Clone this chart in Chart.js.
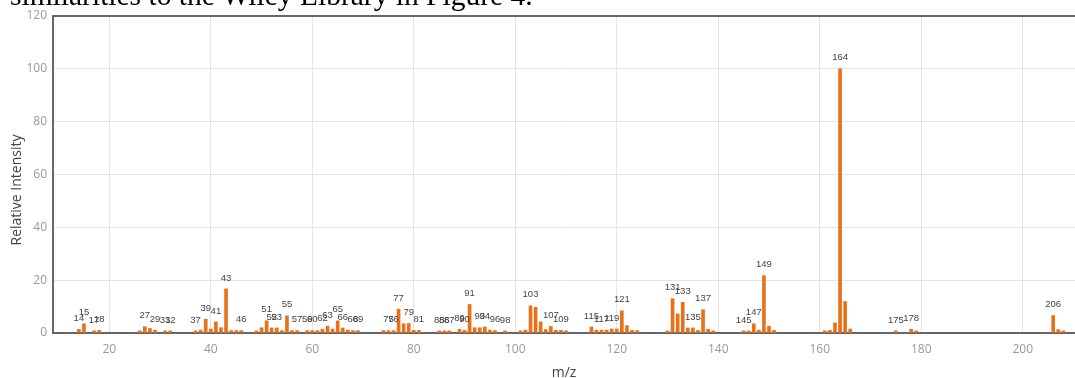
<!DOCTYPE html>
<html lang="en">
<head>
    <meta charset="UTF-8">
    <meta name="viewport" content="width=device-width, initial-scale=1.0">
    <title>Mass Spectrum</title>
    <script src="https://cdn.jsdelivr.net/npm/chart.js"></script>
    <style>
        body {
            margin: 0;
            padding: 0;
            background-color: #ffffff;
            overflow: hidden;
        }
        #wrap {
            position: relative;
            width: 1075px;
            height: 378px;
        }
        #spectrum {
            position: absolute;
            left: 0;
            top: 0;
        }
        #caption {
            position: absolute;
            left: 10px;
            top: -19px;
            font-family: "Liberation Serif", "Times New Roman", serif;
            font-size: 29.5px;
            line-height: 1;
            white-space: nowrap;
            color: #000000;
        }
    </style>
</head>
<body>
    <div id="wrap">
        <canvas id="spectrum" width="1075" height="378"></canvas>
        <div id="caption">similarities to the Wiley Library in Figure 4.</div>
    </div>

    <script>
        // m/z of each peak and its relative intensity
        const mz = [
            14, 15, 17, 18, 26, 27, 28, 29, 31, 32, 37, 38, 39, 40, 41, 42, 43, 44, 45, 46,
            49, 50, 51, 52, 53, 54, 55, 56, 57, 59, 60, 61, 62, 63, 64, 65, 66, 67, 68, 69,
            74, 75, 76, 77, 78, 79, 80, 81, 85, 86, 87, 89, 90, 91, 92, 93, 94, 95, 96, 98,
            101, 102, 103, 104, 105, 106, 107, 108, 109, 110, 115, 116, 117, 118, 119, 120,
            121, 122, 123, 124, 130, 131, 132, 133, 134, 135, 136, 137, 138, 139, 145, 146,
            147, 148, 149, 150, 151, 161, 162, 163, 164, 165, 166, 175, 178, 179, 206, 207, 208
        ];
        const intensity = [
            1.4, 3.5, 0.8, 1.0, 0.8, 2.4, 1.7, 1.1, 0.8, 0.8, 0.8, 1.1, 5.2, 1.5, 4.2, 2.0, 16.7, 0.9, 0.9, 0.9,
            0.8, 2.0, 4.6, 1.9, 1.9, 0.9, 6.5, 0.9, 0.9, 0.9, 0.9, 0.9, 1.4, 2.6, 1.5, 4.6, 1.9, 1.1, 0.9, 0.9,
            0.9, 0.9, 0.9, 9.0, 3.5, 3.6, 1.0, 1.0, 0.8, 0.8, 0.8, 1.4, 1.0, 10.8, 2.0, 2.0, 2.3, 1.1, 0.9, 0.8,
            0.8, 1.1, 10.3, 9.7, 4.2, 1.3, 2.5, 1.0, 1.0, 0.8, 2.3, 1.1, 1.1, 1.1, 1.5, 1.5,
            8.4, 2.8, 1.0, 0.9, 0.8, 13.0, 7.2, 11.6, 1.9, 1.9, 1.0, 8.8, 1.4, 0.8, 0.8, 0.8,
            3.5, 1.1, 21.7, 2.6, 1.0, 0.8, 1.0, 3.8, 100, 11.9, 1.5, 0.8, 1.4, 0.8, 6.6, 1.3, 0.8
        ];
        // peaks that carry an m/z label
        const labeledPeaks = [
            14, 15, 17, 18, 27, 29, 31, 32, 37, 39, 41, 43, 46, 51, 52, 53, 55, 57, 59, 60,
            62, 63, 65, 66, 68, 69, 75, 76, 77, 79, 81, 85, 86, 87, 89, 90, 91, 93, 94, 96,
            98, 103, 107, 109, 115, 117, 119, 121, 131, 133, 135, 137, 145, 147, 149, 164,
            175, 178, 206
        ];
        const xTicks = [20, 40, 60, 80, 100, 120, 140, 160, 180, 200];
        const yTicks = [0, 20, 40, 60, 80, 100, 120];

        const barColor = '#e8711a';
        const gridColor = '#e4e4e4';
        const axisColor = '#666666';

        // peak labels, the mirrored top axis line and the y title
        const spectrumExtras = {
            id: 'spectrumExtras',
            afterDatasetsDraw(chart) {
                const ctx = chart.ctx;
                const area = chart.chartArea;
                const meta = chart.getDatasetMeta(0);
                ctx.save();
                ctx.font = '9.5px "Liberation Sans", Arial, sans-serif';
                ctx.fillStyle = '#444444';
                ctx.textAlign = 'center';
                ctx.textBaseline = 'middle';
                meta.data.forEach((bar, i) => {
                    if (labeledPeaks.includes(mz[i])) {
                        ctx.fillText(String(mz[i]), bar.x, bar.y - 11);
                    }
                });

                ctx.strokeStyle = axisColor;
                ctx.lineWidth = 2;
                ctx.beginPath();
                ctx.moveTo(area.left - 1, area.top);
                ctx.lineTo(area.right, area.top);
                ctx.stroke();

                ctx.translate(17, 190);
                ctx.rotate(-Math.PI / 2);
                ctx.font = '14px "Open Sans", sans-serif';
                ctx.fillStyle = '#444444';
                ctx.fillText('Relative Intensity', 0, 0);
                ctx.restore();
            }
        };

        const spectrumChart = new Chart(document.getElementById('spectrum').getContext('2d'), {
            type: 'bar',
            data: {
                datasets: [{
                    data: mz.map((m, i) => ({ x: m, y: intensity[i] })),
                    backgroundColor: barColor,
                    borderWidth: 0,
                    barThickness: 3
                }]
            },
            options: {
                responsive: false,
                animation: false,
                devicePixelRatio: 1,
                layout: { padding: { top: 16, right: 0, left: 0, bottom: 0 } },
                plugins: {
                    legend: { display: false },
                    tooltip: { enabled: false }
                },
                scales: {
                    x: {
                        type: 'linear',
                        min: 8.9,
                        max: 210.3,
                        offset: false,
                        afterBuildTicks: scale => { scale.ticks = xTicks.map(v => ({ value: v })); },
                        afterFit: scale => { scale.height = 45; },
                        grid: { color: gridColor, offset: false, drawTicks: false },
                        border: { color: axisColor, width: 2 },
                        ticks: {
                            color: '#999999',
                            padding: 9,
                            maxRotation: 0,
                            font: { family: '"Open Sans", sans-serif', size: 12 }
                        },
                        title: {
                            display: true,
                            text: 'm/z',
                            color: '#444444',
                            padding: { top: 0, bottom: -3 },
                            font: { family: '"Open Sans", sans-serif', size: 14 }
                        }
                    },
                    y: {
                        min: 0,
                        max: 120,
                        afterBuildTicks: scale => { scale.ticks = yTicks.map(v => ({ value: v })); },
                        afterFit: scale => { scale.width = 53; },
                        grid: { color: gridColor, drawTicks: false },
                        border: { color: axisColor, width: 2 },
                        ticks: {
                            color: '#999999',
                            padding: 6,
                            font: { family: '"Open Sans", sans-serif', size: 12 }
                        }
                    }
                }
            },
            plugins: [spectrumExtras]
        });
    </script>
</body>
</html>
